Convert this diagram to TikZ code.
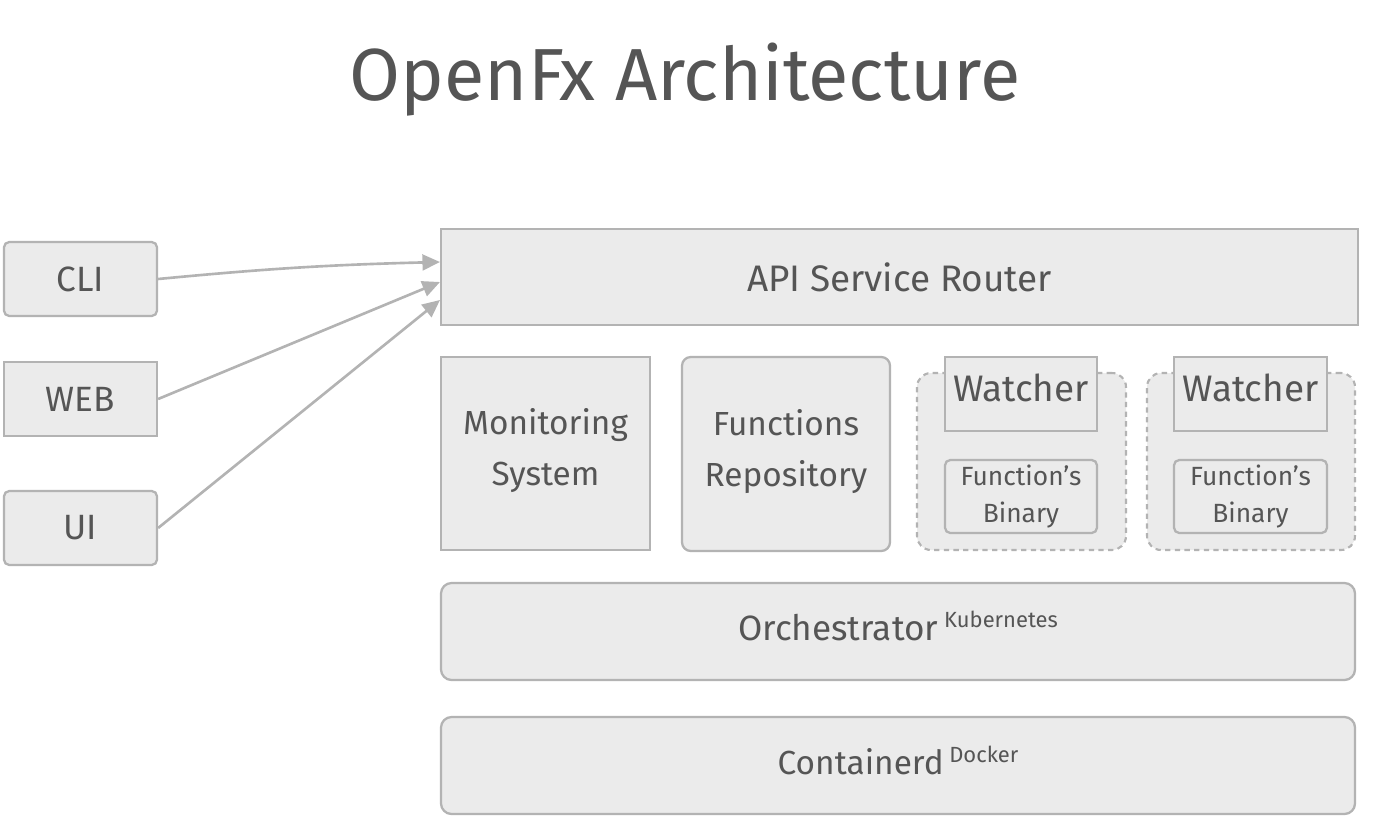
\documentclass[tikz,border=0pt]{standalone}
\usepackage{fontspec}
\setmainfont{Fira Sans}
\usetikzlibrary{fit,arrows.meta}
\definecolor{edgec}{HTML}{B3B3B3}
\definecolor{fillc}{HTML}{EBEBEB}
\definecolor{txt}{HTML}{555555}
\newcommand{\fs}[1]{\fontsize{#1}{#1}\selectfont}
\begin{document}
\begin{tikzpicture}[x=0.02cm,y=-0.02cm,
  box/.style={draw=edgec, fill=fillc, line width=1.3pt, inner sep=0pt},
  grp/.style={draw=edgec, fill=fillc, line width=1.2pt, dash pattern=on 3pt off 2.5pt, rounded corners=8pt, inner sep=0pt},
  conn/.style={draw=edgec, line width=1.5pt, -{Triangle[length=10pt,width=9pt]}},
  lab/.style={text=txt, align=center, inner sep=0pt}]
\useasboundingbox (0,0) rectangle (1374,832);

\node[text=txt, font=\fs{42}] (title) at (685,80) {OpenFx Architecture};

\node[box, rounded corners=3pt, fit={(4,242) (157,316)}, label={[lab, font=\fs{20}]center:CLI}] (cli) {};
\node[box, fit={(4,362) (157,436)}, label={[lab, font=\fs{20}]center:WEB}] (web) {};
\node[box, rounded corners=3pt, fit={(4,491) (157,565)}, label={[lab, font=\fs{20}]center:UI}] (ui) {};

\node[box, fit={(441,229) (1358,325)}, label={[lab, font=\fs{21}]center:API Service Router}] (api) {};

\node[box, fit={(441,357) (650,550)}, label={[lab, font=\fs{19}, yshift=1.5pt]center:Monitoring\\[10pt]System}] (mon) {};
\node[box, rounded corners=5pt, fit={(682,357) (890,551)}, label={[lab, font=\fs{19}, yshift=1.5pt]center:Functions\\[10pt]Repository}] (repo) {};

\node[grp, fit={(917,373) (1126,550)}] (g1) {};
\node[box, fit={(945,357) (1097,431)}, label={[lab, font=\fs{21}, yshift=3.5pt]center:Watcher}] (w1) {};
\node[box, rounded corners=3pt, fit={(945,460) (1097,533)}, label={[lab, font=\fs{15}]center:Function's\\[6pt]Binary}] (b1) {};

\node[grp, fit={(1147,373) (1355,550)}] (g2) {};
\node[box, fit={(1174,357) (1327,431)}, label={[lab, font=\fs{21}, yshift=3.5pt]center:Watcher}] (w2) {};
\node[box, rounded corners=3pt, fit={(1174,460) (1327,533)}, label={[lab, font=\fs{15}]center:Function's\\[6pt]Binary}] (b2) {};

\node[box, rounded corners=6pt, fit={(441,583) (1355,680)}, label={[lab, font=\fs{20}, yshift=3pt]center:Orchestrator\,\raisebox{0.7ex}{\fs{12.5}Kubernetes}}] (orch) {};
\node[box, rounded corners=6pt, fit={(441,717) (1355,814)}, label={[lab, font=\fs{19}, yshift=3pt]center:Containerd\,\raisebox{0.7ex}{\fs{12.5}Docker}}] (cont) {};

\coordinate (t1) at (440,262);
\coordinate (t2) at (440,282);
\coordinate (t3) at (440,300);
\draw[conn] (cli.east) to[bend left=2] (t1);
\draw[conn] (web.east) -- (t2);
\draw[conn] (ui.east) -- (t3);
\end{tikzpicture}
\end{document}
